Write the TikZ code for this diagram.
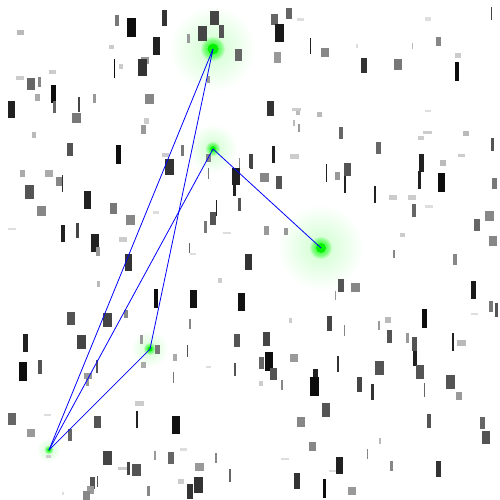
\documentclass[tikz,border=0pt]{standalone}
\begin{document}
\begin{tikzpicture}[x=1pt,y=-1pt,
  edge/.style={blue,line width=0.8pt},
  core/.style={fill=green!95!black}]
\useasboundingbox[fill=white] (0,0) rectangle (500,500);
\coordinate (A) at (213,49);
\coordinate (B) at (213,149);
\coordinate (C) at (321,248);
\coordinate (D) at (150,349);
\coordinate (E) at (49,450);
% glows
\foreach \p/\R/\r in {A/42/6,C/42/5.5,B/24/3.5,D/18/3,E/12/2.2}{
  \foreach \k in {1,...,24}{
    \fill[green,opacity=0.009] (\p) circle ({\R*\k/24});
  }
  \foreach \k in {1,...,6}{
    \fill[green,opacity=0.12] (\p) circle ({\r*(1+\k/6)});
  }
}
% random blocks
\foreach \a/\b/\c/\d/\g in {
115/15/119/26/53, 127/18/136/37/95, 162/10/167/26/80, 210/11/219/25/73, 198/26/207/41/73,
219/25/224/38/67, 235/49/242/61/60, 17/30/24/35/27, 153/37/160/55/87, 109/45/114/49/20,
187/34/190/43/40, 114/59/115/78/95, 119/64/123/69/20, 141/57/149/64/40, 138/59/147/76/80,
49/70/56/74/20, 16/76/24/80/20, 27/78/35/90/60, 38/77/41/87/47, 51/85/56/103/95,
53/101/56/113/60, 35/94/40/101/33, 8/101/15/118/87, 78/97/80/112/73, 93/94/96/103/40,
145/94/154/104/47, 72/113/81/123/53, 207/76/210/83/40, 144/118/149/124/20, 141/125/146/134/40,
32/132/36/138/27, 67/143/73/156/67, 116/145/121/164/95, 181/145/184/156/53, 162/153/169/157/20,
165/159/174/175/80, 206/154/211/162/47, 208/168/209/179/53, 232/168/240/185/87, 233/185/236/196/87,
239/158/240/168/47, 249/154/250/168/73, 238/198/241/211/67, 20/170/25/177/33, 45/170/53/177/33,
56/177/62/186/47, 62/175/63/192/80, 25/185/34/199/67, 84/191/91/209/87, 37/206/46/216/47,
110/203/117/214/53, 126/215/135/225/47, 153/211/159/214/13, 210/212/216/225/67, 216/200/217/216/87,
204/221/207/233/53, 223/232/231/234/13, 8/228/16/230/13, 61/225/65/242/87, 76/223/79/238/73,
91/234/99/252/87, 96/247/100/256/40, 119/237/127/242/20, 189/243/190/253/60,
271/14/278/25/60, 286/8/292/19/60, 297/18/304/21/13, 275/24/284/42/90, 310/38/311/54/87,
321/48/329/57/47, 274/52/281/63/40, 356/44/358/48/13, 361/58/367/73/80, 394/59/402/70/53,
412/43/413/49/27, 425/17/431/21/13, 436/37/441/46/47, 455/53/461/58/20, 455/62/459/81/95,
491/7/492/20/73, 267/101/274/116/80, 292/108/301/111/20, 296/111/300/115/27, 317/112/322/117/27,
293/120/295/126/27, 298/124/300/132/40, 339/127/343/139/60, 376/142/381/154/60, 425/110/431/112/13,
423/131/432/134/20, 418/136/424/140/20, 463/131/469/136/27, 491/138/494/151/67, 458/154/465/157/20,
440/160/446/166/27, 419/154/424/172/87, 418/171/421/189/87, 438/173/445/192/95, 492/178/497/189/53,
250/154/253/169/73, 272/146/275/163/87, 290/154/299/159/20, 260/173/269/182/47, 276/176/282/189/67,
326/164/327/182/87, 335/172/340/180/40, 344/163/351/176/67, 344/176/346/193/87, 374/186/376/203/87,
389/195/397/200/20, 408/195/416/200/20, 412/204/416/217/60, 425/205/433/208/13, 485/211/494/221/47,
474/219/480/231/60, 489/236/497/246/47, 264/226/269/235/40, 284/228/288/235/40, 400/233/405/237/20,
125/254/132/271/80, 190/253/196/255/13, 245/254/250/270/80, 97/281/100/287/27, 154/289/158/308/95,
190/290/197/308/93, 238/293/245/311/93, 218/278/222/283/20, 67/312/75/325/67, 103/313/112/327/73,
124/310/128/318/47, 189/319/191/329/47, 23/334/28/352/87, 77/335/86/349/73, 140/335/143/344/40,
155/345/160/354/53, 173/354/177/361/33, 187/345/188/357/67, 234/334/240/347/67, 19/362/27/381/95,
38/360/42/374/67, 96/360/98/373/67, 84/373/92/379/40, 86/379/89/386/40, 141/362/146/368/33,
173/372/174/383/53, 206/366/211/368/13, 234/363/236/376/67, 135/401/144/406/20, 136/411/138/428/87,
172/416/180/434/93, 8/413/16/425/60, 44/414/51/416/13, 94/416/101/428/67, 27/429/35/437/40,
68/429/72/441/60, 180/448/187/451/13, 46/455/51/458/20, 103/451/112/465/73, 127/462/130/475/73,
132/464/141/476/67, 118/467/127/470/20, 154/451/156/460/40, 168/452/174/464/60, 195/463/204/471/40,
215/453/217/463/47, 229/469/231/482/60, 178/479/184/484/20, 194/477/203/493/80, 187/484/193/499/80,
90/477/95/489/67, 97/476/98/487/67, 87/486/94/494/40, 83/491/90/500/47, 147/486/150/496/47,
62/492/64/495/13,
250/254/252/270/80, 393/250/395/258/47, 453/254/457/265/47, 338/279/344/292/67, 351/283/360/292/47,
335/291/336/300/40, 471/281/476/299/90, 489/301/493/312/53, 495/303/498/317/67, 471/313/478/315/13,
422/309/427/328/95, 289/318/292/323/20, 327/316/332/331/73, 344/325/345/336/47, 378/321/380/330/40,
385/317/391/323/27, 387/330/392/343/67, 406/333/409/343/40, 412/337/417/351/67, 413/351/417/366/87,
452/333/454/351/87, 457/340/466/346/27, 263/332/270/346/73, 265/352/273/371/95, 259/357/264/369/60,
270/368/277/380/67, 290/354/298/362/40, 337/356/339/372/80, 375/361/384/375/67, 416/365/424/379/67,
313/369/318/387/87, 310/377/319/396/95, 357/377/362/392/73, 371/384/374/400/80, 281/380/283/390/47,
259/381/263/386/20, 446/375/455/389/67, 456/392/462/400/40, 424/383/425/397/60, 322/403/330/417/67,
297/417/305/427/47, 427/414/431/428/67, 480/417/485/429/60, 482/431/490/444/67, 309/442/316/451/47,
379/438/381/444/27, 367/449/368/459/47, 281/458/289/460/13, 336/457/343/474/87, 329/470/336/472/13,
390/461/393/471/47, 436/461/441/477/80, 294/473/300/489/80, 323/479/326/498/95, 348/487/356/495/40}{
  \fill[black!\g] (\a,\b) rectangle (\c,\d);
}
% cores
\fill[core] (A) circle (5.5);
\fill[core] (C) circle (5);
\fill[core] (B) circle (2.8);
\fill[core] (D) circle (2.5);
\fill[core] (E) circle (1.8);
% edges
\draw[edge] (A) -- (E);
\draw[edge] (A) -- (D);
\draw[edge] (B) -- (E);
\draw[edge] (B) -- (C);
\draw[edge,line width=0.7pt] (D) -- (E);
\end{tikzpicture}
\end{document}
